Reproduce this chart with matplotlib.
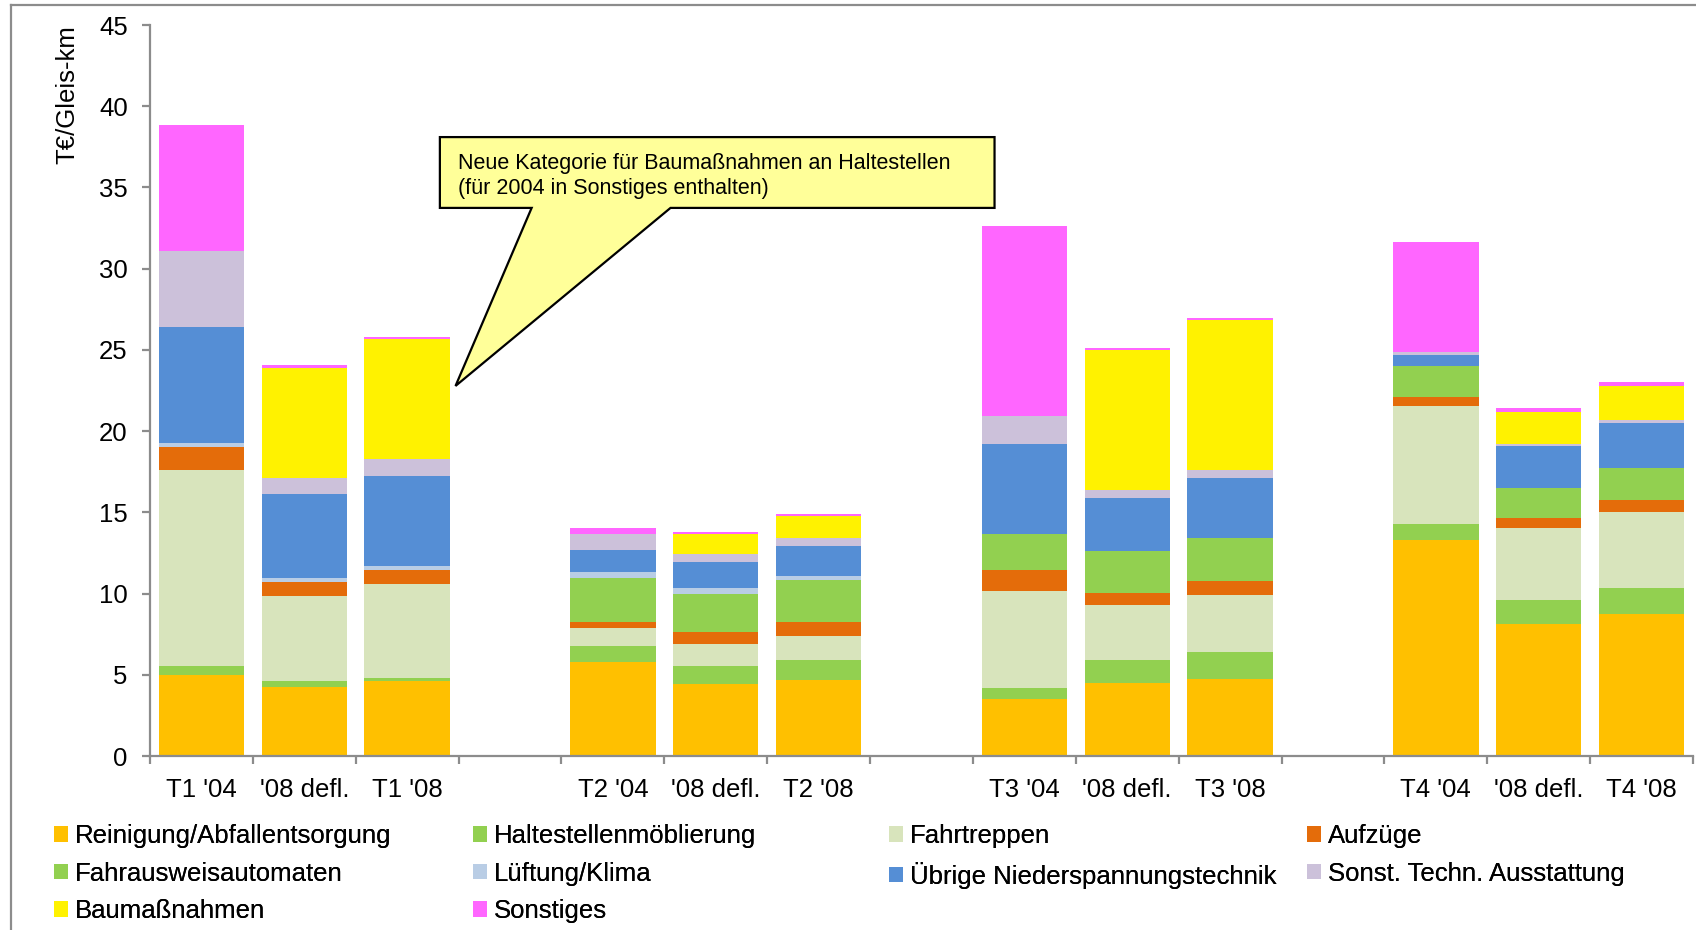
import numpy as np
import matplotlib
matplotlib.use("Agg")
import matplotlib.pyplot as plt
from matplotlib.patches import Patch, Polygon
from matplotlib.lines import Line2D

plt.rcParams['font.family'] = ['Liberation Sans', 'DejaVu Sans']

# Balken (je Gruppe: '04, '08 defl., '08)
groups = ["T1", "T2", "T3", "T4"]
bar_labels = ["T1 '04", "'08 defl.", "T1 '08",
              "T2 '04", "'08 defl.", "T2 '08",
              "T3 '04", "'08 defl.", "T3 '08",
              "T4 '04", "'08 defl.", "T4 '08"]

categories = ["Reinigung/Abfallentsorgung", "Haltestellenmöblierung", "Fahrtreppen", "Aufzüge",
              "Fahrausweisautomaten", "Lüftung/Klima", "Übrige Niederspannungstechnik",
              "Sonst. Techn. Ausstattung", "Baumaßnahmen", "Sonstiges"]
colors = ["#FFC000", "#92D050", "#D8E4BC", "#E46C0A", "#92D050",
          "#B9CDE5", "#558ED5", "#CCC1DA", "#FFF200", "#FF66FF"]

# Werte T€/Gleis-km, je Kategorie 12 Balken
reinigung = [4.98, 4.22, 4.59, 5.81, 4.46, 4.70, 3.49, 4.49, 4.72, 13.29, 8.13, 8.73]
haltestellen = [0.55, 0.37, 0.24, 0.97, 1.08, 1.21, 0.68, 1.43, 1.70, 0.98, 1.46, 1.60]
fahrtreppen = [12.05, 5.28, 5.75, 1.11, 1.38, 1.48, 5.97, 3.35, 3.47, 7.25, 4.43, 4.68]
aufzuege = [1.47, 0.86, 0.88, 0.36, 0.72, 0.86, 1.32, 0.75, 0.86, 0.59, 0.62, 0.74]
automaten = [0.0, 0.0, 0.0, 2.72, 2.34, 2.59, 2.23, 2.58, 2.69, 1.87, 1.85, 1.97]
lueftung = [0.24, 0.21, 0.22, 0.36, 0.37, 0.27, 0.0, 0.0, 0.0, 0.0, 0.0, 0.0]
niederspannung = [7.09, 5.20, 5.53, 1.36, 1.60, 1.83, 5.51, 3.30, 3.69, 0.72, 2.57, 2.81]
sonst_techn = [4.71, 0.95, 1.10, 0.99, 0.49, 0.47, 1.73, 0.48, 0.48, 0.15, 0.12, 0.15]
baumassnahmen = [0.0, 6.79, 7.37, 0.0, 1.24, 1.37, 0.0, 8.63, 9.22, 0.0, 1.99, 2.07]
sonstiges = [7.74, 0.21, 0.12, 0.37, 0.12, 0.13, 11.67, 0.12, 0.14, 6.80, 0.23, 0.25]

series = [reinigung, haltestellen, fahrtreppen, aufzuege, automaten,
          lueftung, niederspannung, sonst_techn, baumassnahmen, sonstiges]

# Positionen: 3 Balken je Gruppe, dazwischen ein leerer Platz
pos = np.array([g * 4 + j for g in range(len(groups)) for j in range(3)])

W, H = 1696, 930
fig = plt.figure(figsize=(W / 100, H / 100), dpi=100)
ax = fig.add_axes([150 / W, 1 - 756 / H, (1693 - 150) / W, (756 - 25) / H])

bottom = np.zeros(len(pos))
for vals, col in zip(series, colors):
    vals = np.array(vals)
    ax.bar(pos, vals, bottom=bottom, width=0.83, color=col, linewidth=0, zorder=2)
    bottom += vals

ax.set_xlim(-0.5, 14.5)
ax.set_ylim(0, 45)
ax.set_yticks(np.arange(0, 46, 5))

gray = "#8C8C8C"
for s in ["top", "right"]:
    ax.spines[s].set_visible(False)
for s in ["left", "bottom"]:
    ax.spines[s].set_color(gray)
    ax.spines[s].set_linewidth(1.6)

ax.set_xticks(pos)
ax.set_xticklabels(bar_labels)
ax.set_xticks(np.arange(-0.5, 15, 1), minor=True)
ax.tick_params(axis="x", which="major", length=0, pad=16, labelsize=18.5)
ax.tick_params(axis="x", which="minor", length=5.5, width=1.6, color=gray)
ax.tick_params(axis="y", length=6, width=1.6, color=gray, pad=10, labelsize=18.5)

ax.set_ylabel("T€/Gleis-km", fontsize=18.5, loc="top", labelpad=14)

# Sprechblase
box_l, box_r, box_t, box_b = 2.318, 7.71, 38.1, 33.74
bubble = Polygon([(box_l, box_t), (box_r, box_t), (box_r, box_b), (4.56, box_b),
                  (2.47, 22.78), (3.21, box_b), (box_l, box_b)],
                 closed=True, facecolor="#FFFF99", edgecolor="black", linewidth=1.6,
                 zorder=5, clip_on=False)
ax.add_patch(bubble)
ax.text(2.49, 37.15, "Neue Kategorie für Baumaßnahmen an Haltestellen\n(für 2004 in Sonstiges enthalten)",
        fontsize=15.5, va="top", ha="left", linespacing=1.3, zorder=6)

# Legende: 4 Spalten, zeilenweise gefüllt
col_x = [54, 473, 889, 1307]
for c, x in enumerate(col_x):
    idx = list(range(c, len(categories), 4))
    handles = [Patch(facecolor=colors[i], edgecolor="none") for i in idx]
    labels = [categories[i] for i in idx]
    leg = fig.legend(handles, labels, loc="upper left", bbox_to_anchor=(x / W, 1 - 824 / H),
                     frameon=False, fontsize=18.5, handlelength=0.55, handleheight=0.55,
                     handletextpad=0.25, labelspacing=0.53, borderpad=0, borderaxespad=0)
    fig.add_artist(leg)

# Rahmen
fig.add_artist(Line2D([11 / W, 11 / W], [0, 1 - 5 / H], color=gray, linewidth=1.6))
fig.add_artist(Line2D([11 / W, 1], [1 - 5 / H, 1 - 5 / H], color=gray, linewidth=1.6))

fig.savefig("out.png", dpi=100)
